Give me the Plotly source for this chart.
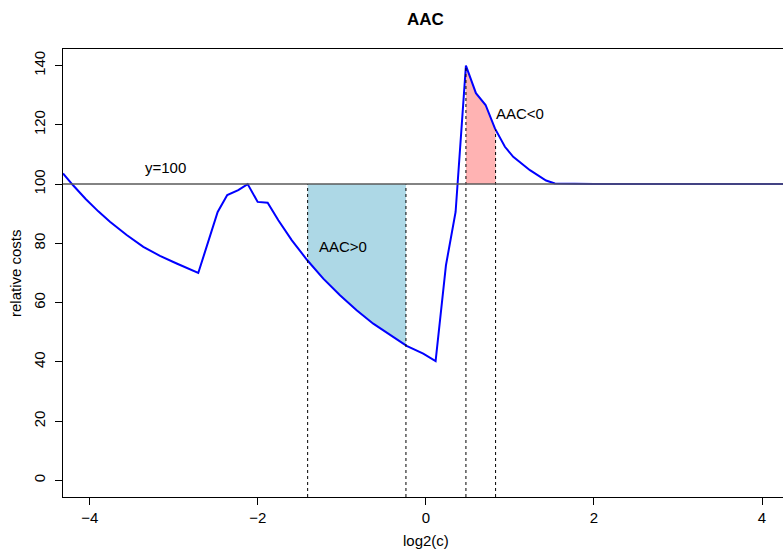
import numpy as np
import plotly.graph_objects as go

# curve data (x = log2(c), y = relative costs)
log2c = [-4.32, -4.20, -4.05, -3.90, -3.761, -3.562, -3.364, -3.166, -2.967, -2.71,
         -2.479, -2.365, -2.234, -2.122, -2.003, -1.884, -1.757, -1.598, -1.412,
         -1.222, -1.023, -0.825, -0.627, -0.428, -0.230, -0.032, 0.115, 0.238,
         0.353, 0.476, 0.595, 0.710, 0.821, 0.940, 1.039, 1.238, 1.43, 1.535,
         2.0, 3.0, 4.32]
rel_costs = [103.6, 99.6, 95.0, 90.8, 87.3, 82.8, 78.8, 75.8, 73.2, 70.0,
             90.6, 96.3, 98.0, 100.0, 94.0, 93.7, 87.8, 81.1, 74.3,
             68.1, 62.5, 57.4, 52.9, 49.0, 45.4, 42.8, 40.3, 72.6,
             90.6, 140.0, 130.7, 126.7, 118.8, 112.6, 109.2, 104.7, 101.2, 100.2,
             100.0, 100.0, 100.0]

aac_pos_range = [-1.408, -0.238]   # blue region (AAC>0)
aac_neg_range = [0.476, 0.829]     # red region (AAC<0)
ref_level = 100
x_ticks = [-4, -2, 0, 2, 4]
y_ticks = [0, 20, 40, 60, 80, 100, 120, 140]

xs = np.array(log2c)
ys = np.array(rel_costs)


def region(a, b):
    inner = (xs > a) & (xs < b)
    px = np.concatenate([[a], xs[inner], [b]])
    py = np.concatenate([[np.interp(a, xs, ys)], ys[inner], [np.interp(b, xs, ys)]])
    fx = np.concatenate([px, px[::-1]])
    fy = np.concatenate([py, np.full(len(px), ref_level)])
    return fx, fy


fig = go.Figure()

bx, by = region(*aac_pos_range)
fig.add_trace(go.Scatter(x=bx, y=by, fill="toself", fillcolor="#ADD8E6",
                         line=dict(width=0), mode="lines", hoverinfo="skip"))
rx, ry = region(*aac_neg_range)
fig.add_trace(go.Scatter(x=rx, y=ry, fill="toself", fillcolor="#FFB3B3",
                         line=dict(width=0), mode="lines", hoverinfo="skip"))

# dashed vertical lines
for xv in aac_pos_range + aac_neg_range:
    top = max(float(np.interp(xv, xs, ys)), ref_level)
    fig.add_shape(type="line", xref="x", yref="y", x0=xv, x1=xv, y0=-5.6, y1=top,
                  line=dict(color="black", width=1, dash="3px,3px"))

# y=100 reference line
fig.add_shape(type="line", xref="paper", yref="y", x0=0, x1=1, y0=ref_level, y1=ref_level,
              line=dict(color="#5a5a5a", width=1.5))

fig.add_trace(go.Scatter(x=log2c, y=rel_costs, mode="lines",
                         line=dict(color="#0000FF", width=2)))

FAM = "Liberation Sans, Arial, sans-serif"
font = dict(family=FAM, size=15, color="black")

fig.add_annotation(x=-3.095, y=105.6, text="y=100", showarrow=False, font=font)
fig.add_annotation(x=-0.99, y=79, text="AAC>0", showarrow=False, font=font)
fig.add_annotation(x=1.12, y=124, text="AAC<0", showarrow=False, font=font)

# titles
fig.add_annotation(x=0, xref="x", y=1, yref="paper", yshift=30, yanchor="middle",
                   xanchor="center", text="<b>AAC</b>", showarrow=False,
                   font=dict(family=FAM, size=17, color="black"))
fig.add_annotation(x=0, xref="x", y=0, yref="paper", yshift=-43, yanchor="middle",
                   xanchor="center", text="log2(c)", showarrow=False, font=font)
fig.add_annotation(x=0, xref="paper", xshift=-48, xanchor="center", y=0.5, yref="paper",
                   yanchor="middle", text="relative costs", textangle=-90,
                   showarrow=False, font=font)

fig.update_layout(
    width=783, height=549,
    margin=dict(l=63, r=0, t=49, b=52),
    plot_bgcolor="white", paper_bgcolor="white",
    showlegend=False,
    font=font,
)

fig.update_xaxes(range=[-4.32, 4.25], tickvals=x_ticks, ticks="outside", ticklen=7,
                 tickcolor="black", showline=True, linecolor="black", linewidth=1,
                 mirror=True, showgrid=False, zeroline=False, tickfont=font,
                 ticklabelstandoff=0)
fig.update_yaxes(range=[-5.6, 145.6], tickvals=y_ticks, ticks="outside", ticklen=7,
                 tickcolor="black", showline=True, linecolor="black", linewidth=1,
                 mirror=False, showgrid=False, zeroline=False, tickfont=font,
                 tickangle=-90, ticklabelstandoff=4)

fig.write_html("out.html")
